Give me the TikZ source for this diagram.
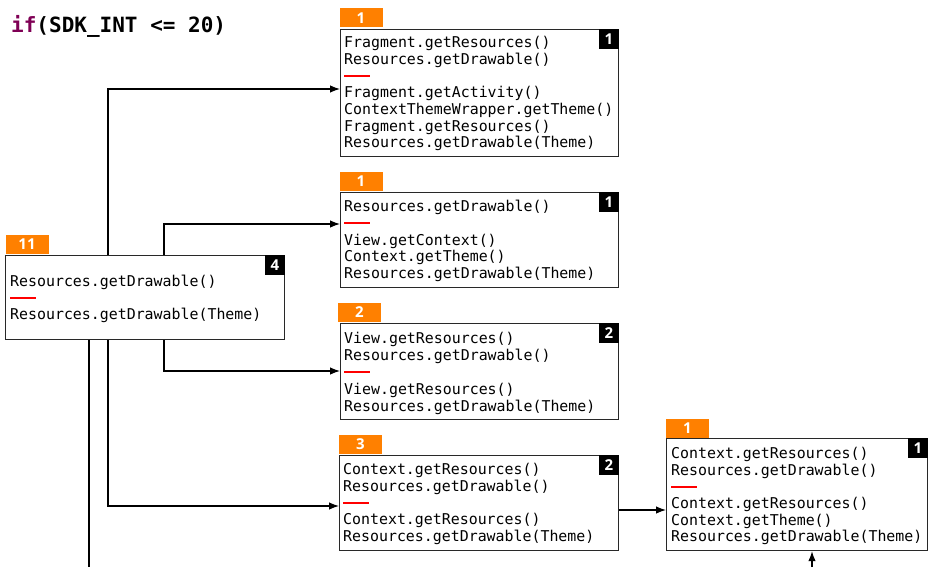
\documentclass[tikz,border=0pt]{standalone}
\usepackage{fontspec}
\setmonofont{DejaVu Sans Mono}
\newfontfamily\badgefont{Open Sans}
\usetikzlibrary{arrows.meta}
\definecolor{badgeorange}{RGB}{255,128,0}
\definecolor{kwcolor}{RGB}{127,0,85}
\definecolor{boxline}{RGB}{40,40,40}
\begin{document}
\begin{tikzpicture}[x=1pt,y=-1pt,
  box/.style={draw=boxline, line width=1.2pt, rectangle, inner sep=0pt, anchor=north west},
  txt/.style={anchor=base west, inner sep=0pt, font=\ttfamily\fontsize{14.9}{16.7}\selectfont},
  obadge/.style={fill=badgeorange, text=white, inner sep=0pt, minimum width=43pt, minimum height=19pt, font=\badgefont\bfseries\fontsize{15}{15}\selectfont},
  kbadge/.style={fill=black, text=white, inner sep=0pt, minimum width=20pt, minimum height=20pt, anchor=north east, font=\badgefont\bfseries\fontsize{15}{15}\selectfont},
  sep/.style={draw=red, line width=1.6pt},
  arr/.style={draw=black, line width=1.2pt, -{Latex[length=10pt,width=7.5pt]}},
  ln/.style={draw=black, line width=1.2pt}]
\useasboundingbox (0,0) rectangle (928,567);

% title
\node[anchor=base west, inner sep=0pt, font=\ttfamily\bfseries\fontsize{21}{24}\selectfont] (title) at (11,32.3) {\textcolor{kwcolor}{if}(SDK\_INT <= 20)};

% boxes
\node[box, minimum width=279pt, minimum height=84pt] (b0) at (5,255) {};
\node[box, minimum width=278pt, minimum height=127pt] (b1) at (340,29) {};
\node[box, minimum width=278pt, minimum height=95pt] (b2) at (340,192) {};
\node[box, minimum width=278pt, minimum height=96pt] (b3) at (340,323) {};
\node[box, minimum width=279pt, minimum height=95pt] (b4) at (339,455) {};
\node[box, minimum width=261pt, minimum height=112pt] (b5) at (666,438) {};

% orange badges
\node[obadge] (o0) at (27,244) {11};
\node[obadge] (o1) at (361,18) {1};
\node[obadge] (o2) at (361,181.5) {1};
\node[obadge] (o3) at (359.5,312.5) {2};
\node[obadge] (o4) at (360.5,444) {3};
\node[obadge] (o5) at (687.5,428) {1};

% black badges
\node[kbadge] (k0) at (b0.north east) {4};
\node[kbadge] (k1) at (b1.north east) {1};
\node[kbadge] (k2) at (b2.north east) {1};
\node[kbadge] (k3) at (b3.north east) {2};
\node[kbadge] (k4) at (b4.north east) {2};
\node[kbadge] (k5) at (b5.north east) {1};

% box 0 text
\node[txt] (t0a) at (10,286) {Resources.getDrawable()};
\draw[sep] (10,298) -- (36,298);
\node[txt] (t0b) at (10,319.5) {Resources.getDrawable(Theme)};

% box 1 text
\node[txt] (t1a) at (344,47.5) {Fragment.getResources()};
\node[txt] (t1b) at (344,64.3) {Resources.getDrawable()};
\draw[sep] (344,76) -- (370,76);
\node[txt] (t1c) at (344,97.7) {Fragment.getActivity()};
\node[txt] (t1d) at (344,114.4) {ContextThemeWrapper.getTheme()};
\node[txt] (t1e) at (344,131.1) {Fragment.getResources()};
\node[txt] (t1f) at (344,147.8) {Resources.getDrawable(Theme)};

% box 2 text
\node[txt] (t2a) at (344,211.5) {Resources.getDrawable()};
\draw[sep] (344,223) -- (370,223);
\node[txt] (t2b) at (344,245) {View.getContext()};
\node[txt] (t2c) at (344,261.7) {Context.getTheme()};
\node[txt] (t2d) at (344,278.4) {Resources.getDrawable(Theme)};

% box 3 text
\node[txt] (t3a) at (344,343.5) {View.getResources()};
\node[txt] (t3b) at (344,360.3) {Resources.getDrawable()};
\draw[sep] (344,372) -- (370,372);
\node[txt] (t3c) at (344,394.3) {View.getResources()};
\node[txt] (t3d) at (344,411) {Resources.getDrawable(Theme)};

% box 4 text
\node[txt] (t4a) at (343,474.5) {Context.getResources()};
\node[txt] (t4b) at (343,491.2) {Resources.getDrawable()};
\draw[sep] (343,503) -- (369,503);
\node[txt] (t4c) at (343,524.6) {Context.getResources()};
\node[txt] (t4d) at (343,541.3) {Resources.getDrawable(Theme)};

% box 5 text
\node[txt] (t5a) at (671,458.3) {Context.getResources()};
\node[txt] (t5b) at (671,475) {Resources.getDrawable()};
\draw[sep] (671,487) -- (697,487);
\node[txt] (t5c) at (671,508.4) {Context.getResources()};
\node[txt] (t5d) at (671,525.1) {Context.getTheme()};
\node[txt] (t5e) at (671,541.8) {Resources.getDrawable(Theme)};

% connectors
\coordinate (down) at (89,567);
\coordinate (up) at (812,567);
\draw[arr] ([xshift=103pt]b0.north west) |- ([yshift=-60pt]b1.north west);
\draw[arr] ([xshift=159pt]b0.north west) |- ([yshift=-32pt]b2.north west);
\draw[arr] ([xshift=159pt]b0.south west) |- ([yshift=-48pt]b3.north west);
\draw[arr] ([xshift=103pt]b0.south west) |- ([yshift=-51pt]b4.north west);
\draw[ln] (b0.south west -| down) -- (down);
\draw[arr] ([yshift=-55pt]b4.north east) -- ([yshift=-72pt]b5.north west);
\draw[arr] (up) -- (up |- b5.south);
\end{tikzpicture}
\end{document}
